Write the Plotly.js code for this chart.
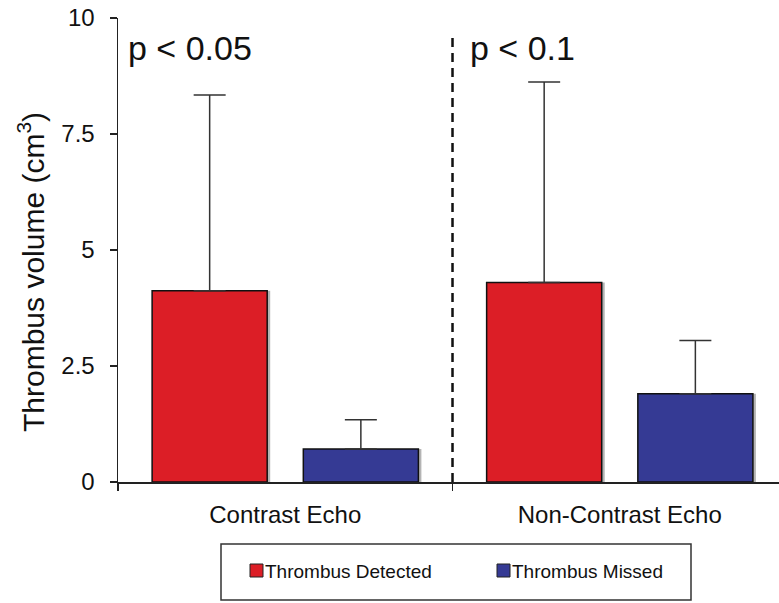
<!DOCTYPE html>
<html>
<head>
<meta charset="utf-8">
<script src="https://cdn.plot.ly/plotly-3.0.1.min.js"></script>
<style>html,body{margin:0;padding:0;background:#fff;}#chart{width:779px;height:603px;}</style>
</head>
<body>
<div id="chart"></div>
<script>
const categories = ["Contrast Echo", "Non-Contrast Echo"];
const seriesNames = ["Thrombus Detected", "Thrombus Missed"];
const seriesColors = ["#dc1e26", "#353a94"];
const detectedMean = [4.12, 4.30];
const detectedErr = [4.22, 4.32];
const missedMean = [0.71, 1.90];
const missedErr = [0.63, 1.15];
const yTickVals = [0, 2.5, 5, 7.5, 10];
const yTickText = ["0", "2.5", "5", "7.5", "10"];
const pLabels = ["p < 0.05", "p < 0.1"];
const yTitle = "Thrombus volume (cm<sup>3</sup>)";

const W = 0.344, OFF_D = -0.398, OFF_M = 0.054, SH = 0.009;
const zeros = categories.map(() => 0);

const traces = [
  {type:'bar', x:categories, y:detectedMean, width:W, offset:OFF_D+SH, marker:{color:'#b4b4b4', line:{width:0}}, showlegend:false, hoverinfo:'skip'},
  {type:'bar', x:categories, y:missedMean, width:W, offset:OFF_M+SH, marker:{color:'#b4b4b4', line:{width:0}}, showlegend:false, hoverinfo:'skip'},
  {type:'bar', name:seriesNames[0], x:categories, y:detectedMean, width:W, offset:OFF_D, showlegend:false,
   marker:{color:seriesColors[0], line:{color:'#111', width:1.5}},
   error_y:{type:'data', symmetric:false, array:detectedErr, arrayminus:zeros, color:'#333', thickness:1.5, width:16}},
  {type:'bar', name:seriesNames[1], x:categories, y:missedMean, width:W, offset:OFF_M, showlegend:false,
   marker:{color:seriesColors[1], line:{color:'#111', width:1.5}},
   error_y:{type:'data', symmetric:false, array:missedErr, arrayminus:zeros, color:'#333', thickness:1.5, width:16}}
];

// pixel -> paper helpers (plot area: x 118..779, y 18..482)
const px = v => (v - 118) / 661;
const py = v => (482 - v) / 464;

const legendShapes = [];
const legendAnn = [];
const legendX = [250, 497];
seriesNames.forEach((n, i) => {
  legendShapes.push({type:'rect', xref:'paper', yref:'paper', x0:px(legendX[i]), x1:px(legendX[i]+13), y0:py(577), y1:py(564),
    fillcolor:seriesColors[i], line:{color:'#222', width:1}});
  legendAnn.push({xref:'paper', yref:'paper', x:px(legendX[i]+13), y:py(571), text:n, showarrow:false, xanchor:'left', yanchor:'middle',
    font:{size:19, color:'#111'}});
});

const layout = {
  width:779, height:603,
  margin:{l:118, r:0, t:18, b:121},
  paper_bgcolor:'#fff', plot_bgcolor:'#fff',
  font:{family:'Liberation Sans, Arial, sans-serif', color:'#111'},
  barmode:'overlay',
  showlegend:false,
  xaxis:{range:[-0.5, 1.476], showline:true, linecolor:'#222', linewidth:1.5, ticks:'outside', tickson:'boundaries',
         ticklen:7, tickcolor:'#222', tickwidth:1.5, showgrid:false, zeroline:false, tickfont:{size:24, color:'#111'},
         ticklabelstandoff:11, fixedrange:true},
  yaxis:{range:[0,10], tickvals:yTickVals, ticktext:yTickText, showline:true, linecolor:'#222', linewidth:1.5,
         ticks:'outside', ticklen:7, tickcolor:'#222', tickwidth:1.5, showgrid:false, zeroline:false,
         tickfont:{size:24, color:'#111'}, ticklabelstandoff:10},
  shapes:[
    {type:'line', xref:'x', yref:'y', x0:0.5, x1:0.5, y0:0, y1:9.7, line:{color:'#111', width:2.5, dash:'9px,6px'}},
    {type:'rect', xref:'paper', yref:'paper', x0:px(221), x1:px(691), y0:py(600), y1:py(544),
     line:{color:'#333', width:1.5}, fillcolor:'rgba(0,0,0,0)'}
  ].concat(legendShapes),
  annotations:[
    {xref:'paper', yref:'paper', x:px(31), y:py(272), text:yTitle, textangle:-90, showarrow:false, xanchor:'center', yanchor:'middle',
     font:{size:30, color:'#111'}},
    {xref:'x', yref:'y', x:-0.476, y:9.35, text:pLabels[0], showarrow:false, xanchor:'left', yanchor:'middle', font:{size:34, color:'#111'}},
    {xref:'x', yref:'y', x:0.546, y:9.35, text:pLabels[1], showarrow:false, xanchor:'left', yanchor:'middle', font:{size:34, color:'#111'}}
  ].concat(legendAnn)
};

Plotly.newPlot('chart', traces, layout, {displayModeBar:false, staticPlot:true});
</script>
</body>
</html>
